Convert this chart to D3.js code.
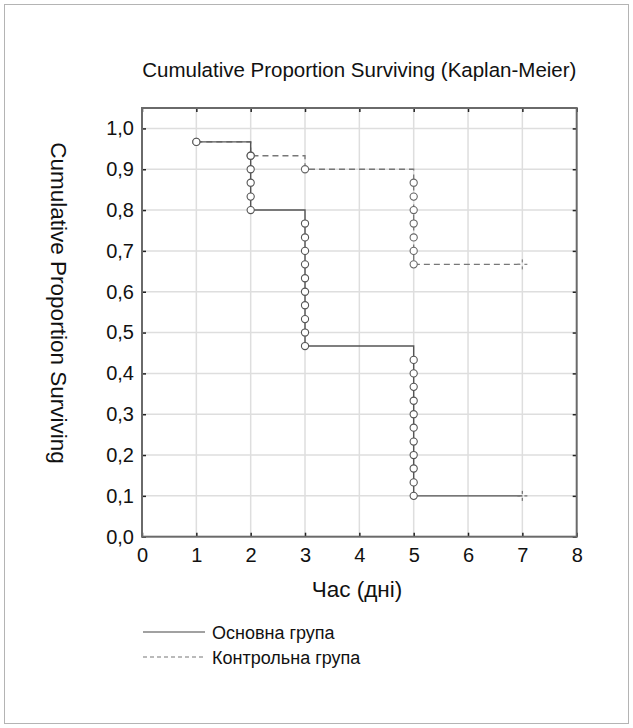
<!DOCTYPE html>
<html><head><meta charset="utf-8">
<script src="https://cdn.jsdelivr.net/npm/d3@7/dist/d3.min.js"></script>
<style>body{margin:0;background:#fff}svg{display:block}text{font-family:"Liberation Sans",Arial,sans-serif;fill:#111}</style>
</head><body>
<svg id="c" width="633" height="728"></svg>
<script>
// ---- data ----
const chartTitle = "Cumulative Proportion Surviving (Kaplan-Meier)";
const xTitle = "Час (дні)";
const yTitle = "Cumulative Proportion Surviving";
const xTicks = [0,1,2,3,4,5,6,7,8];
const yTicks = [0,0.1,0.2,0.3,0.4,0.5,0.6,0.7,0.8,0.9,1.0];
const seriesNames = ["Основна група", "Контрольна група"];
// step curves: [time, proportion]
const mainSteps = [[1,0.967],[2,0.967],[2,0.8],[3,0.8],[3,0.467],[5,0.467],[5,0.1],[7,0.1]];
const controlSteps = [[1,0.967],[2,0.967],[2,0.933],[3,0.933],[3,0.9],[5,0.9],[5,0.667],[7,0.667]];
// complete (event) observations, drawn as circles
const mainEvents = [
  [1,0.967],
  [2,0.933],[2,0.9],[2,0.867],[2,0.833],[2,0.8],
  [3,0.767],[3,0.733],[3,0.7],[3,0.667],[3,0.633],[3,0.6],[3,0.567],[3,0.533],[3,0.5],[3,0.467],
  [5,0.433],[5,0.4],[5,0.367],[5,0.333],[5,0.3],[5,0.267],[5,0.233],[5,0.2],[5,0.167],[5,0.133],[5,0.1]
];
const controlEvents = [
  [1,0.967],[2,0.933],[3,0.9],
  [5,0.867],[5,0.833],[5,0.8],[5,0.767],[5,0.733],[5,0.7],[5,0.667]
];
// censored observations (end of follow-up)
const mainCensored = [[7,0.1]];
const controlCensored = [[7,0.667]];

// ---- drawing ----
const svg = d3.select("#c");
const L = 142, R = 576.7, T = 108, B = 536.7;
const x = d3.scaleLinear().domain([0,8]).range([L,R]);
const y = d3.scaleLinear().domain([0,1.05]).range([B,T]);
const FS = 20;

svg.append("rect").attr("x",4.5).attr("y",4.5).attr("width",624).attr("height",719)
  .attr("fill","none").attr("stroke","#b4b4b4").attr("stroke-width",1);

// grid
const grid = svg.append("g").attr("stroke","#dedede").attr("stroke-width",1.5);
grid.selectAll("line.v").data(xTicks.slice(1,-1)).join("line")
  .attr("x1",d=>x(d)).attr("x2",d=>x(d)).attr("y1",T).attr("y2",B);
grid.selectAll("line.h").data(yTicks.slice(1)).join("line")
  .attr("x1",L).attr("x2",R).attr("y1",d=>y(d)).attr("y2",d=>y(d));

const fmt = d => d3.format(".1f")(d).replace(".",",");
const styleAxis = g => { g.select(".domain").remove(); g.selectAll(".tick line").attr("stroke","#222").attr("stroke-width",1.5);
  g.selectAll("text").attr("font-size",FS).attr("fill","#111").attr("font-family","Liberation Sans, Arial, sans-serif"); };

svg.append("g").attr("transform",`translate(0,${B})`)
  .call(d3.axisBottom(x).tickValues(xTicks).tickSize(-4).tickPadding(11).tickFormat(d3.format("d"))).call(styleAxis);
svg.append("g").attr("transform",`translate(0,${T})`)
  .call(d3.axisTop(x).tickValues(xTicks).tickSize(-4).tickFormat("")).call(styleAxis);
svg.append("g").attr("transform",`translate(${L},0)`)
  .call(d3.axisLeft(y).tickValues(yTicks).tickSize(-4).tickPadding(8).tickFormat(fmt)).call(styleAxis);
svg.append("g").attr("transform",`translate(${R},0)`)
  .call(d3.axisRight(y).tickValues(yTicks).tickSize(-4).tickFormat("")).call(styleAxis);

svg.append("rect").attr("x",L).attr("y",T).attr("width",R-L).attr("height",B-T)
  .attr("fill","none").attr("stroke","#6a6a6a").attr("stroke-width",2);

const line = d3.line().x(d=>x(d[0])).y(d=>y(d[1]));
svg.append("path").datum(controlSteps).attr("d",line).attr("fill","none")
  .attr("stroke","#777").attr("stroke-width",1.3).attr("stroke-dasharray","6,4");
svg.append("path").datum(mainSteps).attr("d",line).attr("fill","none")
  .attr("stroke","#555").attr("stroke-width",1.4);

const circ = (data,col) => svg.append("g").selectAll("circle").data(data).join("circle")
  .attr("cx",d=>x(d[0])).attr("cy",d=>y(d[1])).attr("r",3.6)
  .attr("fill","#fff").attr("stroke",col).attr("stroke-width",1.1);
circ(controlEvents,"#666");
circ(mainEvents,"#555");

const cens = (data,col) => { const g = svg.append("g").attr("stroke",col).attr("stroke-width",1.3);
  data.forEach(d => { const cx = x(d[0]), cy = y(d[1]);
    [[-5,0,-2,0],[2,0,5,0],[0,-5,0,-2],[0,2,0,5]].forEach(s =>
      g.append("line").attr("x1",cx+s[0]).attr("y1",cy+s[1]).attr("x2",cx+s[2]).attr("y2",cy+s[3]));
  }); };
cens(mainCensored,"#777"); cens(controlCensored,"#888");

// titles
svg.append("text").attr("x",(L+R)/2).attr("y",77).attr("text-anchor","middle").attr("font-size",20.5).text(chartTitle);
svg.append("text").attr("x",357).attr("y",597).attr("text-anchor","middle").attr("font-size",22.5).text(xTitle);
svg.append("text").attr("transform",`translate(51,303) rotate(90)`).attr("text-anchor","middle")
  .attr("font-size",22.5).text(yTitle);

// legend
const leg = svg.append("g");
const legY = [632, 657];
leg.selectAll("line").data(seriesNames).join("line")
  .attr("x1",143).attr("x2",205).attr("y1",(d,i)=>legY[i]).attr("y2",(d,i)=>legY[i])
  .attr("stroke",(d,i)=>i?"#777":"#444").attr("stroke-width",1.2).attr("stroke-dasharray",(d,i)=>i?"4,3":null);
leg.selectAll("text").data(seriesNames).join("text")
  .attr("x",212).attr("y",(d,i)=>legY[i]+6.5).attr("font-size",18).text(d=>d);
</script>
</body></html>
